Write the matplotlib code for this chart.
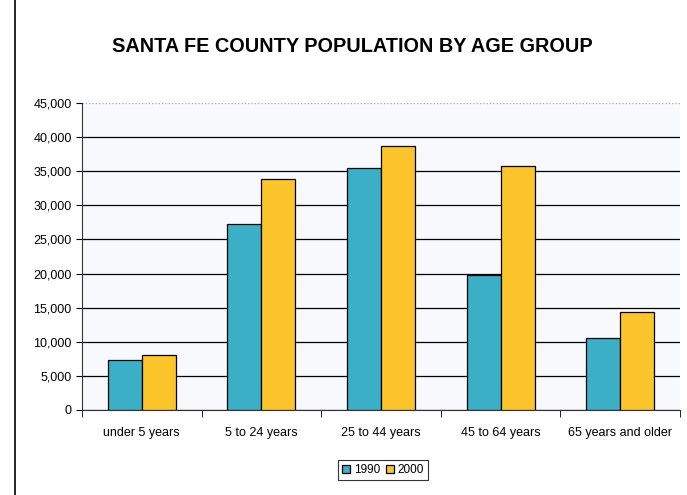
import numpy as np
import matplotlib
matplotlib.use('Agg')
from matplotlib import pyplot as plt
from matplotlib.ticker import FuncFormatter

plt.rcParams['font.family'] = ['Liberation Sans', 'DejaVu Sans']

groups = ['under 5 years', '5 to 24 years', '25 to 44 years', '45 to 64 years', '65 years and older']
pop_1990 = [7300, 27200, 35400, 19800, 10600]
pop_2000 = [8000, 33800, 38700, 35800, 14400]
series_names = ['1990', '2000']

C1990 = '#3aafc6'
C2000 = '#fcc52c'

fig = plt.figure(figsize=(6.87, 4.95), dpi=100)
ax = fig.add_axes([82/687, 1 - 410/495, (680-82)/687, (410-103)/495])

x = np.arange(len(groups))
w = 0.285
ax.bar(x - w/2, pop_1990, w, color=C1990, edgecolor='black', linewidth=0.9, label=series_names[0], zorder=3)
ax.bar(x + w/2, pop_2000, w, color=C2000, edgecolor='black', linewidth=0.9, label=series_names[1], zorder=3)

ax.set_xlim(-0.5, len(groups) - 0.5)
ax.set_ylim(0, 45000)
ax.set_yticks(np.arange(0, 45001, 5000))
ax.yaxis.set_major_formatter(FuncFormatter(lambda v, p: f'{int(v):,}'))
ax.set_xticks(x)
ax.set_xticklabels(groups, fontsize=9)
ax.set_xticks(np.arange(-0.5, len(groups)), minor=True)
ax.tick_params(axis='x', which='major', length=0, pad=12)
ax.tick_params(axis='x', which='minor', length=5, direction='out')
ax.tick_params(axis='y', labelsize=9, length=4, direction='out')
ax.yaxis.grid(True, color='black', linewidth=0.9, zorder=0)
gl = ax.get_ygridlines()
gl[-1].set_color('#aaaaaa')
gl[-1].set_linestyle(':')
ax.set_axisbelow(True)
ax.set_facecolor('#f7f9fd')
for s in ['top', 'right']:
    ax.spines[s].set_visible(False)
ax.spines['left'].set_color('#333333')
ax.spines['bottom'].set_color('#333333')

fig.text(0.513, 1 - 47/495, 'SANTA FE COUNTY POPULATION BY AGE GROUP',
         ha='center', va='center', fontsize=14.3, fontweight='bold')

leg = fig.legend(loc='center', bbox_to_anchor=(383/687, 1 - 470/495), ncol=2,
                 fontsize=8.5, frameon=True, fancybox=False, edgecolor='black',
                 handlelength=0.7, handleheight=0.7, handletextpad=0.3, columnspacing=0.5,
                 borderpad=0.3)
leg.get_frame().set_linewidth(0.8)

# outer chart border
fig.add_artist(plt.Line2D([15/687, 15/687], [0, 1], color='black', linewidth=1.2))

fig.savefig('out.png', dpi=100)
